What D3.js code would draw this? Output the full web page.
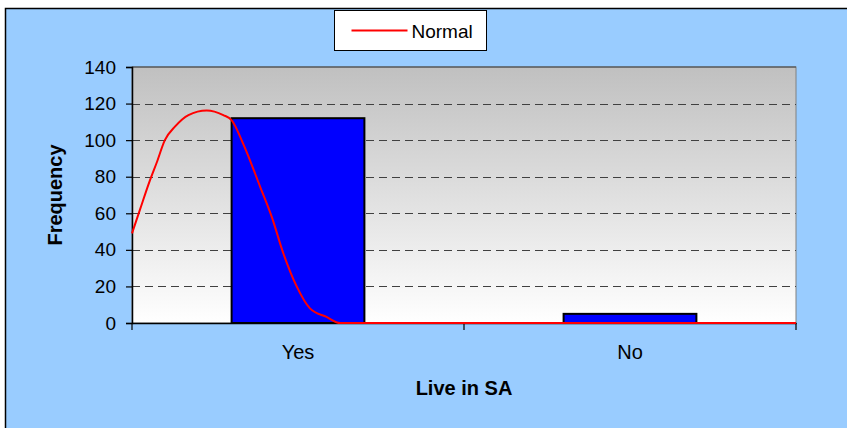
<!DOCTYPE html>
<html>
<head>
<meta charset="utf-8">
<script src="https://cdn.jsdelivr.net/npm/d3@7"></script>
<style>
  html, body { margin: 0; padding: 0; background: #ffffff; }
  svg { display: block; }
  text { font-family: "Liberation Sans", Arial, sans-serif; fill: #000; }
</style>
</head>
<body>
<svg id="chart" width="847" height="428"></svg>
<script>
// Histogram of "Live in SA" answers
const categories = ["Yes", "No"];
const frequencies = [112, 5];

// Fitted normal curve, sampled along the category axis (0..2 spans both bands)
const normalX = [0, 0.024, 0.054, 0.074, 0.099, 0.130, 0.170, 0.225, 0.275, 0.300,
                 0.335, 0.386, 0.421, 0.456, 0.496, 0.536, 0.586, 0.627, 0.70, 1.0, 1.5, 2.0];
const normalY = [49, 62, 78, 87.5, 100, 107.5, 113.7, 116.2, 113.7, 111,
                 98, 74.5, 58, 38, 20, 8, 3.3, 0, 0, 0, 0, 0];

const yTicks = [0, 20, 40, 60, 80, 100, 120, 140];
const seriesName = "Normal";
const xTitle = "Live in SA";
const yTitle = "Frequency";

const svg = d3.select("#chart");
const W = 847, H = 428;
const plot = { left: 132, right: 796, top: 67, bottom: 323 };

// Chart area background with frame
svg.append("rect").attr("x", 0).attr("y", 0).attr("width", W).attr("height", H).attr("fill", "#ffffff");
svg.append("rect")
  .attr("x", 5.5).attr("y", 8.5).attr("width", W + 10).attr("height", H + 10)
  .attr("fill", "#99ccff").attr("stroke", "#000").attr("stroke-width", 1.5);

// Plot area gradient
const defs = svg.append("defs");
const grad = defs.append("linearGradient").attr("id", "plotGrad")
  .attr("x1", 0).attr("y1", 0).attr("x2", 0).attr("y2", 1);
grad.append("stop").attr("offset", "0%").attr("stop-color", "#c0c0c0");
grad.append("stop").attr("offset", "100%").attr("stop-color", "#ffffff");

const x = d3.scaleBand().domain(categories).range([plot.left, plot.right]).paddingInner(0).paddingOuter(0);
const xc = d3.scaleLinear().domain([0, 2]).range([plot.left, plot.right]);
const y = d3.scaleLinear().domain([0, 140]).range([plot.bottom, plot.top]);

svg.append("rect")
  .attr("x", plot.left).attr("y", plot.top)
  .attr("width", plot.right - plot.left).attr("height", plot.bottom - plot.top)
  .attr("fill", "url(#plotGrad)").attr("stroke", "#808080").attr("stroke-width", 1);

// Dashed gridlines
svg.append("g").selectAll("line")
  .data(yTicks.filter(t => t > 0 && t < 140))
  .join("line")
  .attr("x1", plot.left).attr("x2", plot.right)
  .attr("y1", d => Math.round(y(d)) + 0.5).attr("y2", d => Math.round(y(d)) + 0.5)
  .attr("stroke", "#404040").attr("stroke-width", 1).attr("stroke-dasharray", "8,5");
svg.append("line")
  .attr("x1", plot.left).attr("x2", plot.right)
  .attr("y1", y(140)).attr("y2", y(140))
  .attr("stroke", "#404040").attr("stroke-width", 1.2);

// Bars
const barW = x.bandwidth() * 0.4;
svg.append("g").selectAll("rect")
  .data(categories.map((c, i) => ({ c, v: frequencies[i] })))
  .join("rect")
  .attr("x", d => x(d.c) + (x.bandwidth() - barW) / 2)
  .attr("y", d => y(d.v))
  .attr("width", barW)
  .attr("height", d => y(0) - y(d.v))
  .attr("fill", "#0000ff").attr("stroke", "#000").attr("stroke-width", 2);

// Y axis
const yAxis = d3.axisLeft(y).tickValues(yTicks).tickSize(6).tickPadding(10);
const gy = svg.append("g").attr("transform", `translate(${plot.left},0)`).call(yAxis);
gy.select(".domain").attr("stroke", "#000").attr("stroke-width", 1.5);
gy.selectAll(".tick line").attr("stroke", "#000").attr("stroke-width", 1.2);
gy.selectAll(".tick text").attr("font-size", "19px")
  .attr("font-family", "'Liberation Sans', Arial, sans-serif").attr("fill", "#000");

// X axis (category boundaries as ticks)
const xAxis = d3.axisBottom(x).tickSize(0).tickPadding(22);
const gx = svg.append("g").attr("transform", `translate(0,${plot.bottom})`).call(xAxis);
gx.select(".domain").attr("stroke", "#000").attr("stroke-width", 1.5);
gx.selectAll(".tick text").attr("font-size", "20px")
  .attr("font-family", "'Liberation Sans', Arial, sans-serif").attr("fill", "#000");
svg.append("g").selectAll("line")
  .data([0, 1, 2])
  .join("line")
  .attr("x1", d => xc(d)).attr("x2", d => xc(d))
  .attr("y1", plot.bottom).attr("y2", plot.bottom + 7)
  .attr("stroke", "#000").attr("stroke-width", 1.2);

// Normal curve
const line = d3.line()
  .x(d => xc(d[0])).y(d => y(d[1]))
  .curve(d3.curveMonotoneX);
svg.append("path")
  .datum(normalX.map((v, i) => [v, normalY[i]]))
  .attr("d", line)
  .attr("fill", "none").attr("stroke", "#ff0000").attr("stroke-width", 2);

// Axis titles
svg.append("text")
  .attr("x", (plot.left + plot.right) / 2).attr("y", 395)
  .attr("text-anchor", "middle").attr("font-size", "20px").attr("font-weight", "bold")
  .text(xTitle);
svg.append("text")
  .attr("transform", `translate(62,${(plot.top + plot.bottom) / 2}) rotate(-90)`)
  .attr("text-anchor", "middle").attr("font-size", "20px").attr("font-weight", "bold")
  .text(yTitle);

// Legend
const lg = svg.append("g").attr("transform", "translate(334.5,10.5)");
lg.append("rect").attr("width", 152).attr("height", 40)
  .attr("fill", "#ffffff").attr("stroke", "#000").attr("stroke-width", 1);
lg.append("line").attr("x1", 17).attr("x2", 73).attr("y1", 20).attr("y2", 20)
  .attr("stroke", "#ff0000").attr("stroke-width", 2);
lg.append("text").attr("x", 77).attr("y", 27).attr("font-size", "19px").text(seriesName);
</script>
</body>
</html>
